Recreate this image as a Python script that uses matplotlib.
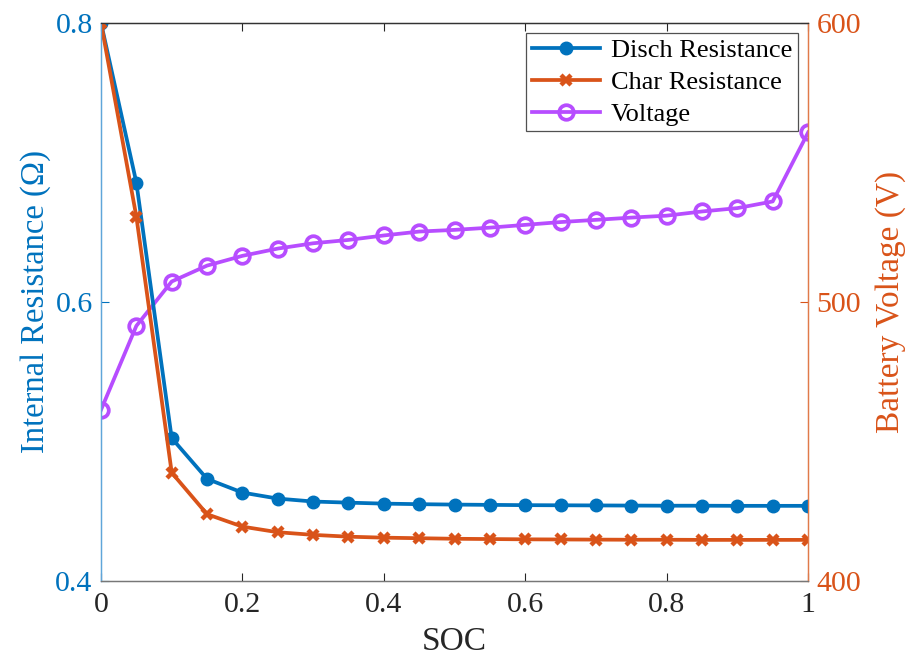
import matplotlib
matplotlib.use("Agg")
import matplotlib.pyplot as plt

plt.rcParams["font.family"] = ["Liberation Serif", "DejaVu Serif"]
plt.rcParams["mathtext.fontset"] = "stix"

soc = [0.0, 0.05, 0.10, 0.15, 0.20, 0.25, 0.30, 0.35, 0.40, 0.45, 0.50,
       0.55, 0.60, 0.65, 0.70, 0.75, 0.80, 0.85, 0.90, 0.95, 1.0]
disch_res = [0.800, 0.6855, 0.5023, 0.4731, 0.4633, 0.4590, 0.4569, 0.4561,
             0.4554, 0.4550, 0.4547, 0.4545, 0.4543, 0.4542, 0.4541, 0.4540,
             0.4539, 0.4539, 0.4538, 0.4538, 0.4538]
char_res = [0.800, 0.6611, 0.4776, 0.4478, 0.4389, 0.4349, 0.4330, 0.4317,
            0.4310, 0.4306, 0.4302, 0.4300, 0.4298, 0.4297, 0.4296, 0.4295,
            0.4295, 0.4294, 0.4294, 0.4294, 0.4294]
voltage = [461.3, 491.4, 507.3, 513.0, 516.5, 519.1, 521.0, 522.2, 523.8,
           525.2, 525.8, 526.6, 527.6, 528.6, 529.4, 530.2, 530.9, 532.4,
           533.6, 536.0, 560.7]

BLUE = "#0072BD"
ORANGE = "#D95319"
PURPLE = "#B74DFF"

fig = plt.figure(figsize=(9.1, 6.62), dpi=100)
ax = fig.add_axes([0.111, 0.1225, 0.777, 0.843])
ax2 = ax.twinx()

# resistance curves sit above the voltage curve
ax.set_zorder(ax2.get_zorder() + 1)
ax.patch.set_visible(False)

l1, = ax.plot(soc, disch_res, color=BLUE, lw=2.7, marker="o", ms=9,
              label="Disch Resistance")
l2, = ax.plot(soc, char_res, color=ORANGE, lw=2.7, marker="x", ms=7, mew=3.2,
              label="Char Resistance")
l3, = ax2.plot(soc, voltage, color=PURPLE, lw=2.7, marker="o", ms=10.5,
               mfc="none", mew=2.7, label="Voltage")

ax.set_xlim(0, 1)
ax.set_ylim(0.4, 0.8)
ax2.set_ylim(400, 600)
ax.set_xticks([0, 0.2, 0.4, 0.6, 0.8, 1.0])
ax.set_xticklabels(["0", "0.2", "0.4", "0.6", "0.8", "1"])
ax.set_yticks([0.4, 0.6, 0.8])
ax2.set_yticks([400, 500, 600])

ax.tick_params(axis="x", direction="in", top=True, length=6, width=0.8,
               labelsize=21.5, colors="#262626", pad=8)
ax.tick_params(axis="y", direction="in", length=6, width=0.8,
               labelsize=21.5, colors=BLUE, pad=6)
ax2.tick_params(axis="y", direction="in", length=6, width=0.8,
                labelsize=21.5, colors=ORANGE, pad=6)

for a in (ax, ax2):
    a.spines["top"].set_color("#333333")
    a.spines["bottom"].set_color("#777777")
    a.spines["left"].set_color("#5FA6DA")
    a.spines["right"].set_color("#E07A4A")
    for s in a.spines.values():
        s.set_linewidth(0.9)

ax.set_xlabel("SOC", fontsize=24, color="#262626", labelpad=6)
ax.set_ylabel("Internal Resistance (Ω)", fontsize=23.5, color=BLUE, labelpad=3)
ax2.set_ylabel("Battery Voltage (V)", fontsize=24, color=ORANGE, labelpad=10)

leg = ax.legend(handles=[l1, l2, l3], loc="upper right", fontsize=19,
                frameon=True, fancybox=False, edgecolor="#262626",
                borderaxespad=0.4, handlelength=2.6, labelspacing=0.32,
                borderpad=0.2, handletextpad=0.4)
leg.get_frame().set_linewidth(0.9)

fig.savefig("out.png", dpi=100)
